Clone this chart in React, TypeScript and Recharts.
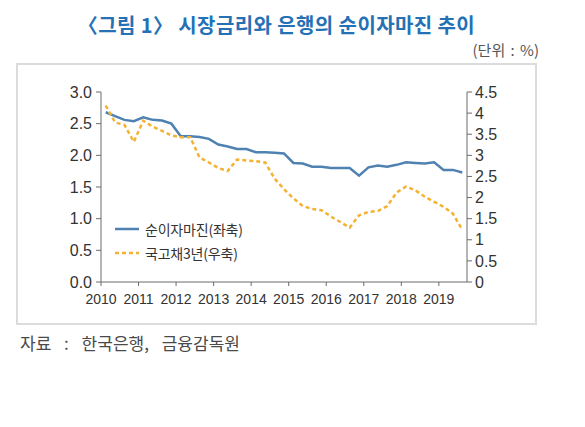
import { Line, LineChart, XAxis, YAxis } from "recharts"

const years = [2010, 2011, 2012, 2013, 2014, 2015, 2016, 2017, 2018, 2019]

// quarterly, 2010Q1 .. 2019Q3
const nim = [
  2.68, 2.62, 2.56, 2.54, 2.6, 2.56, 2.55, 2.5,
  2.3, 2.3, 2.29, 2.26, 2.17, 2.14, 2.1, 2.1,
  2.05, 2.05, 2.04, 2.03, 1.88, 1.87, 1.82, 1.82,
  1.8, 1.8, 1.8, 1.68, 1.81, 1.84, 1.82, 1.85,
  1.89, 1.88, 1.87, 1.89, 1.77, 1.77, 1.73,
]

const ktb3y = [
  4.18, 3.78, 3.72, 3.32, 3.82, 3.68, 3.58, 3.47,
  3.43, 3.43, 2.95, 2.83, 2.7, 2.63, 2.9, 2.88,
  2.86, 2.83, 2.45, 2.2, 1.98, 1.8, 1.73, 1.7,
  1.55, 1.42, 1.29, 1.58, 1.66, 1.68, 1.8, 2.12,
  2.26, 2.17, 2.02, 1.9, 1.78, 1.62, 1.23,
]

const leftTicks = [0, 0.5, 1, 1.5, 2, 2.5, 3]
const rightTicks = [0, 0.5, 1, 1.5, 2, 2.5, 3, 3.5, 4, 4.5]

const data = nim.map((v, i) => ({
  t: years[0] + Math.floor(i / 4) + (i % 4) / 4 + 0.125,
  nim: v,
  ktb: ktb3y[i],
}))

const BLUE = "#4f81b1"
const ORANGE = "#f2b233"
const AXIS = "#6b6b6b"
const FONT = "'Liberation Sans', Arial, sans-serif"
const KFONT = "'Noto Sans CJK KR', 'Noto Sans', sans-serif"

function LegendBox() {
  const items = [
    { label: "순이자마진(좌축)", color: BLUE, dash: undefined },
    { label: "국고채3년(우축)", color: ORANGE, dash: "4 3" },
  ]
  return (
    <div
      style={{
        position: "absolute",
        left: 115,
        top: 217,
        fontFamily: KFONT,
        fontSize: 14,
        letterSpacing: -0.2,
        color: "#333",
      }}
    >
      {items.map((it) => (
        <div key={it.label} style={{ display: "flex", alignItems: "center", height: 24 }}>
          <svg width={30} height={6}>
            <line x1={0} y1={3} x2={24} y2={3} stroke={it.color} strokeWidth={2.5} strokeDasharray={it.dash} />
          </svg>
          <span>{it.label}</span>
        </div>
      ))}
    </div>
  )
}

export default function App() {
  return (
    <div style={{ position: "absolute", left: 0, top: 0, width: 585, height: 427, background: "#fff" }}>
      <div
        style={{
          position: "absolute",
          left: 16,
          width: 521,
          top: 10,
          textAlign: "center",
          fontFamily: KFONT,
          fontWeight: 700,
          fontSize: 20,
          letterSpacing: 0.4,
          color: "#2471b5",
        }}
      >
        〈그림 1〉 시장금리와 은행의 순이자마진 추이
      </div>
      <div
        style={{
          position: "absolute",
          right: 46,
          top: 39,
          fontFamily: KFONT,
          fontSize: 15,
          wordSpacing: 2,
          color: "#555",
        }}
      >
        (단위 : %)
      </div>
      <div
        style={{
          position: "absolute",
          left: 16,
          top: 63,
          width: 517,
          height: 258,
          border: "2px solid #dcdcdc",
        }}
      />
      <div
        style={{
          position: "absolute",
          left: 20,
          top: 330,
          fontFamily: KFONT,
          fontSize: 17,
          wordSpacing: 9,
          color: "#4a4a4a",
        }}
      >
        자료 : 한국은행, 금융감독원
      </div>
      <div style={{ position: "absolute", left: 0, top: 0 }}>
        <LineChart width={585} height={427} data={data} margin={{ top: 92, right: 78, bottom: 115, left: 61 }}>
          <XAxis
            dataKey="t"
            type="number"
            domain={[2010, 2019.75]}
            ticks={years}
            interval={0}
            tickSize={4}
            tickMargin={8}
            stroke={AXIS}
            height={30}
            tick={{ fontSize: 14, fill: "#333", fontFamily: FONT }}
          />
          <YAxis
            yAxisId="left"
            domain={[0, 3]}
            ticks={leftTicks}
            interval={0}
            width={40}
            tickSize={5}
            tickMargin={4}
            stroke={AXIS}
            tickFormatter={(v) => Number(v).toFixed(1)}
            tick={{ fontSize: 16, fill: "#333", fontFamily: FONT }}
          />
          <YAxis
            yAxisId="right"
            orientation="right"
            domain={[0, 4.5]}
            ticks={rightTicks}
            interval={0}
            width={40}
            tickSize={5}
            tickMargin={3}
            stroke={AXIS}
            tickFormatter={(v) => `${v}`}
            tick={{ fontSize: 16, fill: "#333", fontFamily: FONT }}
          />
          <Line
            yAxisId="left"
            dataKey="nim"
            stroke={BLUE}
            strokeWidth={2.5}
            dot={false}
            isAnimationActive={false}
          />
          <Line
            yAxisId="right"
            dataKey="ktb"
            stroke={ORANGE}
            strokeWidth={2.5}
            strokeDasharray="4 3"
            dot={false}
            isAnimationActive={false}
          />
        </LineChart>
      </div>
      <LegendBox />
    </div>
  )
}
